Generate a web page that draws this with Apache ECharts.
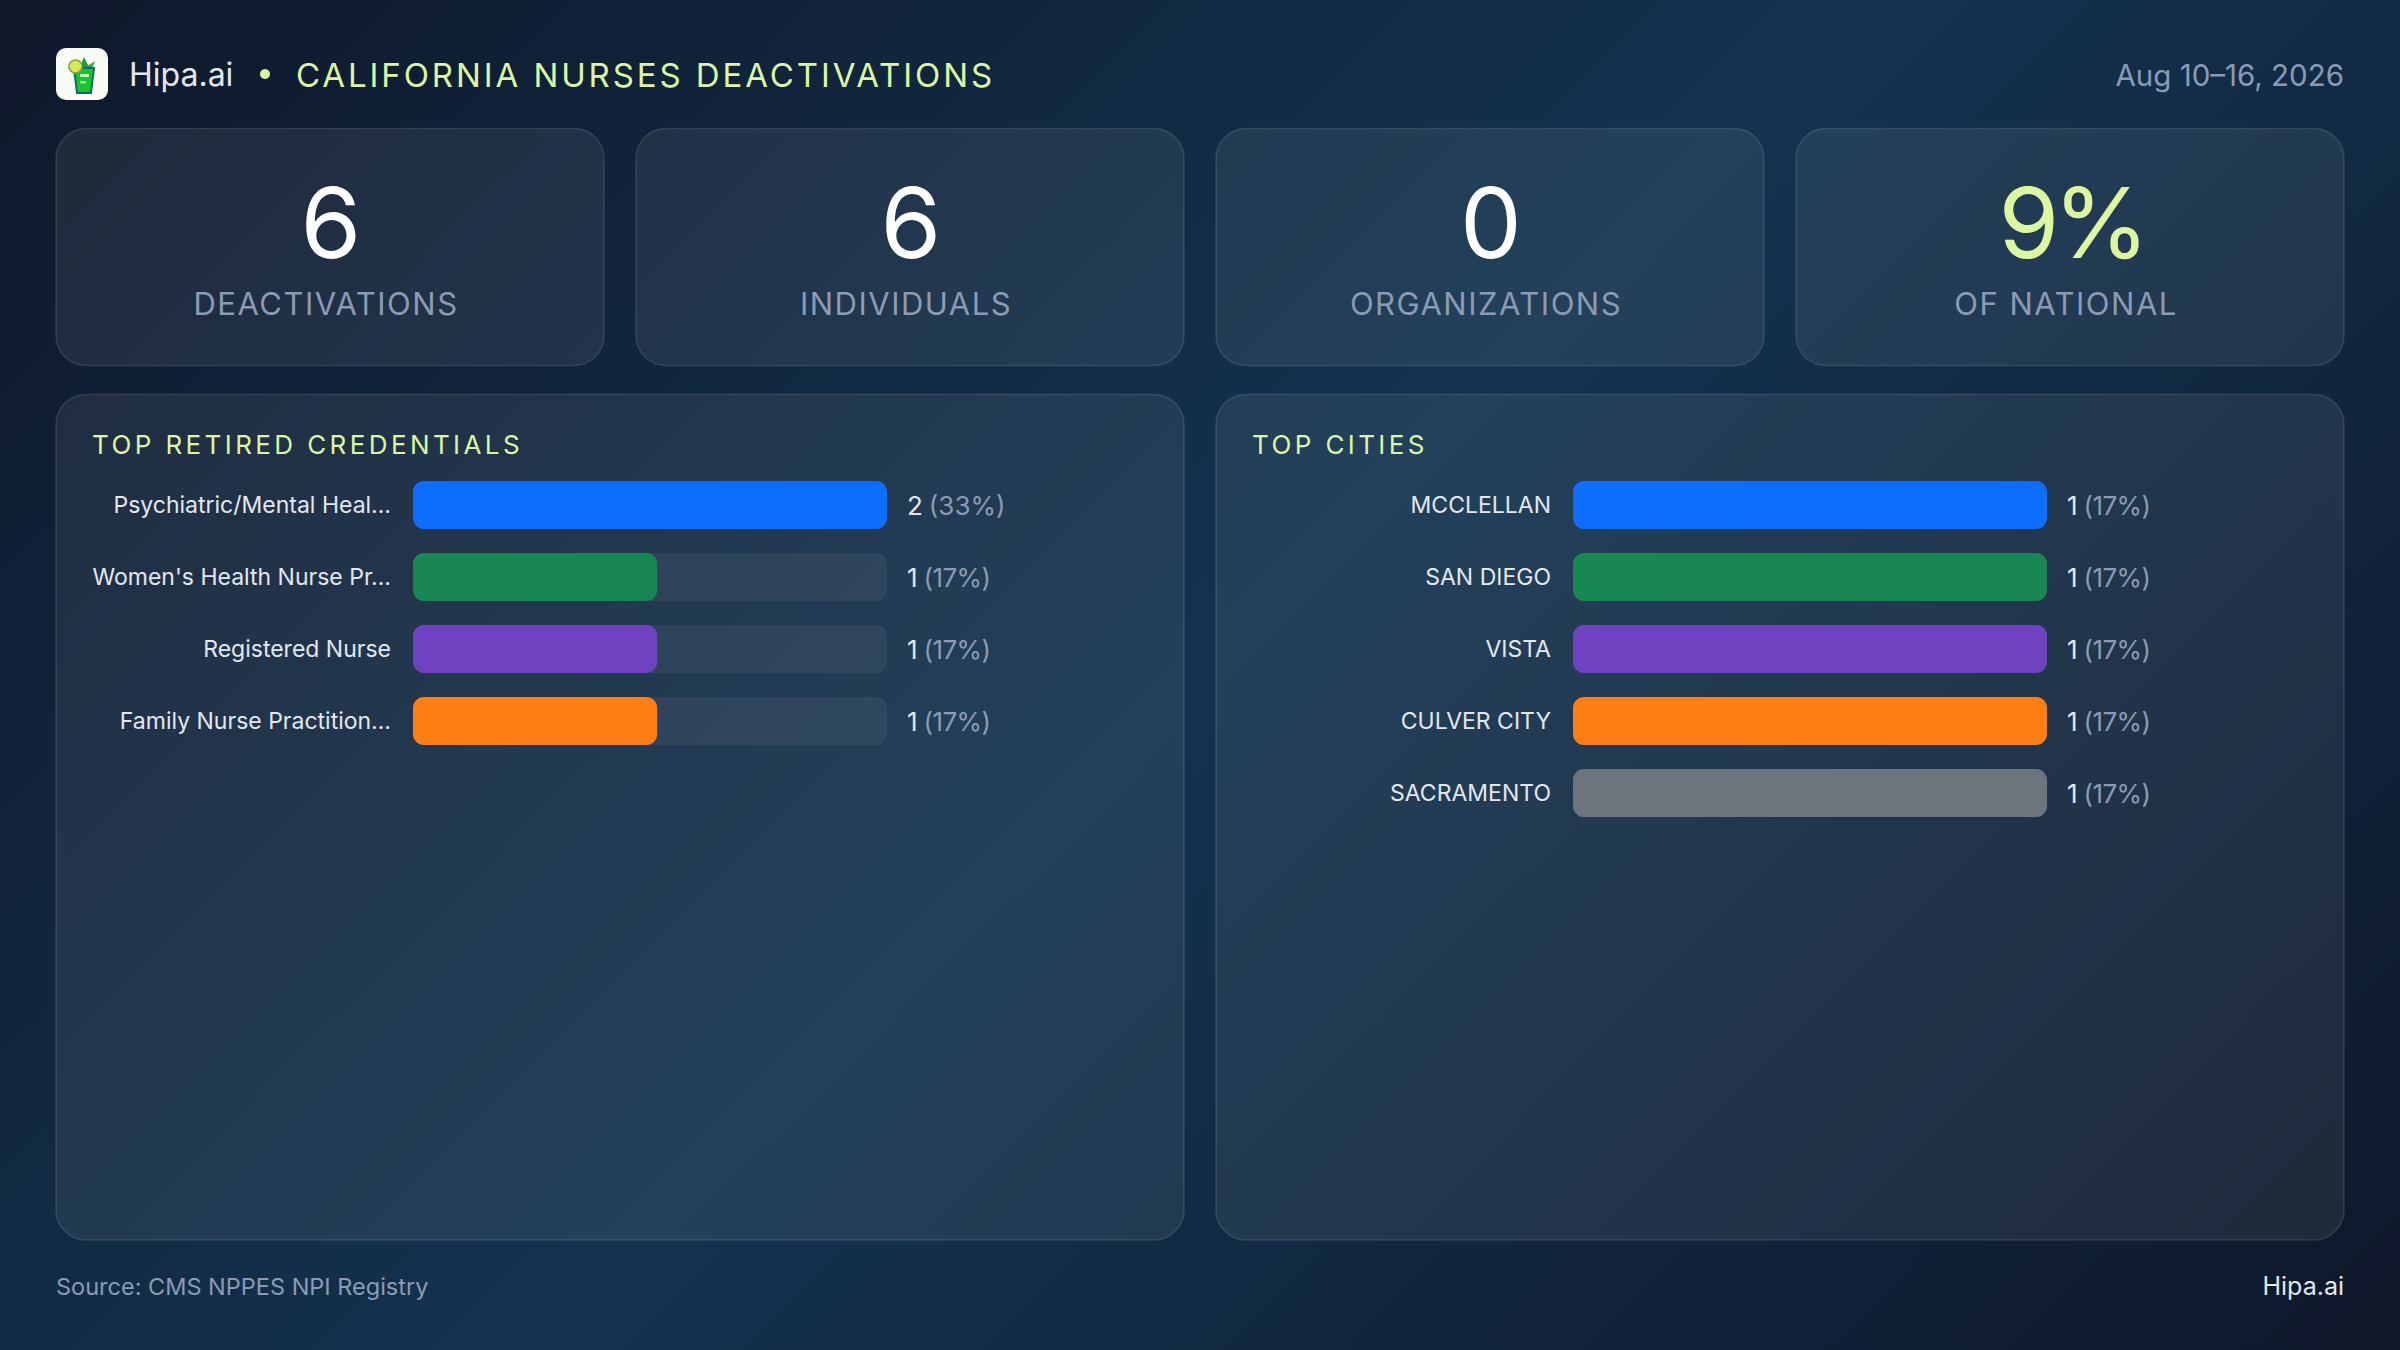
<!DOCTYPE html>
<html>
<head>
<meta charset="utf-8">
<title>California Nurses Deactivations</title>
<script src="https://cdn.jsdelivr.net/npm/echarts@6/dist/echarts.min.js"></script>
<style>
html, body { margin: 0; padding: 0; background: #10203a; }
#main { width: 2400px; height: 1350px; }
</style>
</head>
<body>
<div id="main"></div>
<script>
const kpiValues = ['6', '6', '0', '9%'];
const kpiLabels = ['DEACTIVATIONS', 'INDIVIDUALS', 'ORGANIZATIONS', 'OF NATIONAL'];

const credentialNames = ['Psychiatric/Mental Heal...', "Women's Health Nurse Pr...", 'Registered Nurse', 'Family Nurse Practition...'];
const credentialCounts = [2, 1, 1, 1];
const credentialPercents = [33, 17, 17, 17];

const cityNames = ['MCCLELLAN', 'SAN DIEGO', 'VISTA', 'CULVER CITY', 'SACRAMENTO'];
const cityCounts = [1, 1, 1, 1, 1];
const cityPercents = [17, 17, 17, 17, 17];

const palette = ['#0d6efd', '#198754', '#6f42c1', '#fd7e14', '#6c757d'];
const fontName = 'Inter, "Liberation Sans", sans-serif';
const lime = '#dcf79f';
const muted = '#8b9bb4';
const light = '#e2e8f0';

// text that needs tracking, zrender has no letter spacing of its own
const tracking = {
    'CALIFORNIA NURSES DEACTIVATIONS': 2.9,
    'TOP RETIRED CREDENTIALS': 3.4,
    'TOP CITIES': 3.4,
    'DEACTIVATIONS': 1.5,
    'INDIVIDUALS': 1.5,
    'ORGANIZATIONS': 1.5,
    'OF NATIONAL': 1.5,
    '9%': -6,
    '(17%)': -0.6
};

function label(text, x, y, size, fill, align, weight) {
    return {
        type: 'text',
        style: {
            text: text, x: x, y: y, fill: fill,
            font: (weight || 400) + ' ' + size + 'px ' + fontName,
            textAlign: align || 'left',
            textVerticalAlign: 'middle'
        }
    };
}

function card(x, y, w, h, r) {
    return {
        type: 'rect',
        shape: { x: x, y: y, width: w, height: h, r: r },
        style: { fill: 'rgba(255,255,255,0.07)', stroke: 'rgba(255,255,255,0.12)', lineWidth: 1.5 }
    };
}

let graphics = [];

// logo
graphics.push(
    { type: 'rect', shape: { x: 56, y: 48, width: 52, height: 52, r: 10 }, style: { fill: '#f8fbf6' } },
    { type: 'polygon', shape: { points: [[80, 67], [84, 57], [89, 67]] }, style: { fill: '#1f9b45' } },
    { type: 'polygon', shape: { points: [[86, 67], [95, 61], [92, 69]] }, style: { fill: '#2cae4c' } },
    { type: 'polygon', shape: { points: [[74, 68], [94, 68], [91, 93], [77, 93]] }, style: { fill: '#16c42c', stroke: '#12696a', lineWidth: 2 } },
    { type: 'rect', shape: { x: 80, y: 74, width: 9, height: 3, r: 1 }, style: { fill: '#c9f7c5' } },
    { type: 'rect', shape: { x: 80, y: 81, width: 6, height: 2.5, r: 1 }, style: { fill: '#a5eea0' } },
    { type: 'circle', shape: { cx: 75.5, cy: 66.5, r: 6.5 }, style: { fill: '#d6e95a', stroke: '#8aa52c', lineWidth: 1.5 } }
);

// header
graphics.push(
    label('Hipa.ai', 129, 74.5, 32, light),
    { type: 'circle', shape: { cx: 265, cy: 74, r: 5 }, style: { fill: lime } },
    label('CALIFORNIA NURSES DEACTIVATIONS', 296, 74.5, 33, lime),
    label('Aug 10–16, 2026', 2344, 74.5, 29.5, muted, 'right')
);

// kpi cards
kpiValues.forEach(function (v, i) {
    const x = 56 + i * 580;
    graphics.push(
        card(x, 128.5, 548, 237, 30),
        label(v, x + 275, 222, 98, i === 3 ? lime : '#ffffff', 'center', 400),
        label(kpiLabels[i], x + 270, 303.5, 31, muted, 'center')
    );
});

// panels
graphics.push(
    card(56, 394.5, 1128, 845.5, 30),
    card(1216, 394.5, 1128, 845.5, 30),
    label('TOP RETIRED CREDENTIALS', 92, 444, 26, lime),
    label('TOP CITIES', 1252, 444, 26, lime)
);

// footer
graphics.push(
    label('Source: CMS NPPES NPI Registry', 56, 1286, 23.5, muted),
    label('Hipa.ai', 2344, 1286, 25, light, 'right')
);

function countLabels(counts, percents) {
    return counts.map(function (c, i) {
        return '{v|' + c + '}{p|(' + percents[i] + '%)}';
    });
}

function valueAxis(gridIndex, max) {
    return {
        gridIndex: gridIndex, type: 'value', min: 0, max: max,
        show: false
    };
}

function nameAxis(gridIndex, names) {
    return {
        gridIndex: gridIndex, type: 'category', inverse: true, data: names,
        axisLine: { show: false }, axisTick: { show: false },
        axisLabel: { color: light, fontSize: 23, fontFamily: fontName, margin: 22, padding: [1, 0, 0, 0] }
    };
}

function statAxis(gridIndex, stats) {
    return {
        gridIndex: gridIndex, type: 'category', inverse: true, position: 'right', data: stats,
        axisLine: { show: false }, axisTick: { show: false },
        axisLabel: {
            margin: 20,
            formatter: function (v) { return v; },
            rich: {
                v: { color: light, fontSize: 26, fontFamily: fontName },
                p: { color: muted, fontSize: 26, fontFamily: fontName, padding: [0, 0, 0, 6] }
            }
        }
    };
}

function barSeries(axisIndex, values) {
    return {
        type: 'bar',
        xAxisIndex: axisIndex,
        yAxisIndex: axisIndex * 2,
        data: values,
        barWidth: 48,
        showBackground: true,
        backgroundStyle: { color: 'rgba(255,255,255,0.06)', borderRadius: 11 },
        itemStyle: {
            borderRadius: 11,
            color: function (p) { return palette[p.dataIndex]; }
        },
        silent: true
    };
}

const chart = echarts.init(document.getElementById('main'), null, { renderer: 'svg', width: 2400, height: 1350 });

const option = {
    animation: false,
    backgroundColor: {
        type: 'linear', global: true,
        x: 262, y: -262, x2: 2137, y2: 1612,
        colorStops: [
            { offset: 0, color: '#0f172a' },
            { offset: 0.5, color: '#13334f' },
            { offset: 1, color: '#0f172a' }
        ]
    },
    graphic: graphics,
    grid: [
        { left: 413, width: 474, top: 469, height: 288 },
        { left: 1573, width: 474, top: 469, height: 360 }
    ],
    xAxis: [
        valueAxis(0, Math.max.apply(null, credentialPercents)),
        valueAxis(1, Math.max.apply(null, cityPercents))
    ],
    yAxis: [
        nameAxis(0, credentialNames),
        statAxis(0, countLabels(credentialCounts, credentialPercents)),
        nameAxis(1, cityNames),
        statAxis(1, countLabels(cityCounts, cityPercents))
    ],
    series: [
        barSeries(0, credentialPercents),
        barSeries(1, cityPercents)
    ]
};

chart.setOption(option);

function applyTracking() {
    document.querySelectorAll('#main svg text').forEach(function (t) {
        const s = tracking[t.textContent];
        if (s) t.setAttribute('letter-spacing', s);
    });
}
applyTracking();
chart.on('finished', applyTracking);
</script>
</body>
</html>
